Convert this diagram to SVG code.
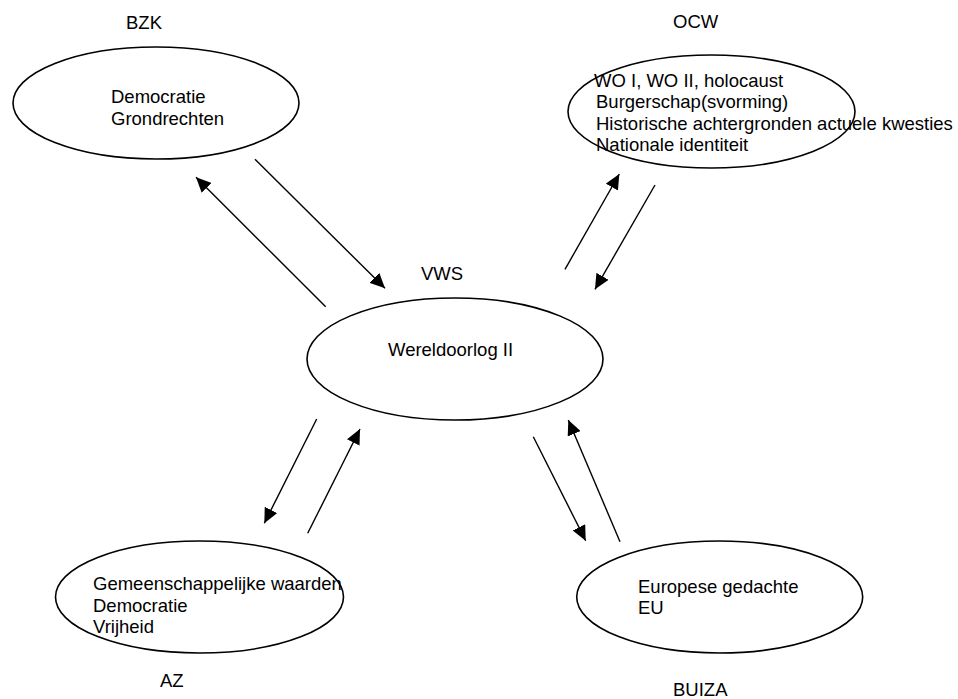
<svg xmlns="http://www.w3.org/2000/svg" width="958" height="699" viewBox="0 0 958 699">
<style>
  .bg { fill: #ffffff; }
  .node ellipse { fill: none; stroke: #000; stroke-width: 1.6; }
  text { font-family: "Liberation Sans", Arial, sans-serif; font-size: 18.5px; fill: #000; }
  .conn line { stroke: #000; stroke-width: 1.4; }
</style>
<defs>
  <marker id="arrow" markerUnits="userSpaceOnUse" markerWidth="16" markerHeight="14" viewBox="0 0 16 14" refX="15" refY="7" orient="auto">
    <path d="M0,0 L15,7 L0,14 z" fill="#000"/>
  </marker>
</defs>
<rect class="bg" x="0" y="0" width="958" height="699"/>

<g id="bzk" class="node">
  <text x="126" y="29">BZK</text>
  <ellipse cx="156" cy="103" rx="143" ry="56"/>
  <text x="111" y="103">Democratie</text>
  <text x="111" y="125">Grondrechten</text>
</g>

<g id="ocw" class="node">
  <text x="673" y="28">OCW</text>
  <ellipse cx="711.5" cy="111.5" rx="143.5" ry="56.5"/>
  <text x="594" y="87">WO I, WO II, holocaust</text>
  <text x="596" y="108">Burgerschap(svorming)</text>
  <text x="596" y="129.5">Historische achtergronden actuele kwesties</text>
  <text x="596" y="150.5">Nationale identiteit</text>
</g>

<g id="vws" class="node">
  <text x="421" y="280">VWS</text>
  <ellipse cx="455" cy="359" rx="148" ry="61"/>
  <text x="388" y="355.5">Wereldoorlog II</text>
</g>

<g id="az" class="node">
  <ellipse cx="199.5" cy="597" rx="144" ry="56"/>
  <text x="93" y="590">Gemeenschappelijke waarden</text>
  <text x="93" y="611.5">Democratie</text>
  <text x="93" y="632.5">Vrijheid</text>
  <text x="160" y="687">AZ</text>
</g>

<g id="buiza" class="node">
  <ellipse cx="719.7" cy="597" rx="143" ry="56"/>
  <text x="638" y="592.5">Europese gedachte</text>
  <text x="638" y="613.5">EU</text>
  <text x="673" y="696">BUIZA</text>
</g>

<g id="connectors" class="conn">
  <line x1="255" y1="159.3" x2="385" y2="288.3" marker-end="url(#arrow)"/>
  <line x1="325.7" y1="306.7" x2="196" y2="177.3" marker-end="url(#arrow)"/>
  <line x1="565" y1="269.3" x2="619.3" y2="174" marker-end="url(#arrow)"/>
  <line x1="655" y1="185" x2="595" y2="289.3" marker-end="url(#arrow)"/>
  <line x1="316.7" y1="419" x2="264.3" y2="523.3" marker-end="url(#arrow)"/>
  <line x1="307.7" y1="533.3" x2="360" y2="429" marker-end="url(#arrow)"/>
  <line x1="533.3" y1="436.7" x2="585.7" y2="540.7" marker-end="url(#arrow)"/>
  <line x1="620" y1="541.7" x2="568.3" y2="420" marker-end="url(#arrow)"/>
</g>
</svg>
